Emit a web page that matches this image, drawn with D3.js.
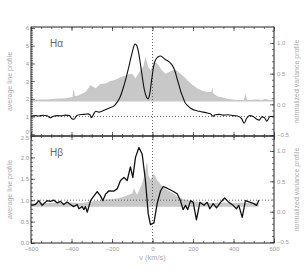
<!DOCTYPE html>
<html lang="en">
  <head>
    <meta charset="UTF-8" />
    <title>Line and variance profiles</title>
    <script src="https://cdn.jsdelivr.net/npm/d3@7"></script>
    <style>
      body { margin: 0; background: #fff; }
      text { font-family: "Liberation Sans", Arial, sans-serif; }
      .tick text { fill: #999; font-size: 6px; }
      .tick line { stroke: #333; stroke-width: 0.7; }
      .title { fill: #aaa; font-size: 7px; }
    </style>
  </head>
  <body>
    <script>

      // H-alpha average line profile
      var haV    = [-600,-580,-560,-540,-520,-505,-490,-470,-450,-430,-410,-398,-388,-375,-360,-340,-320,-310,-302,-290,-280,-265,-250,-230,-210,-190,-175,-160,-145,-130,-115,-105,-95,-87,-80,-70,-60,-50,-40,-30,-22,-15,-5,5,15,25,40,50,60,75,90,100,110,120,130,140,150,160,175,190,210,230,250,270,288,298,310,330,350,370,400,420,440,452,465,480,500,515,527,540,552,565,580,600];
      var haLine = [1.0,1.05,1.03,1.07,1.04,0.93,1.02,1.05,1.04,1.08,1.05,0.88,0.85,1.05,1.1,1.12,1.15,1.12,0.93,1.15,1.3,1.25,1.3,1.4,1.5,1.6,1.8,2.1,2.6,3.2,3.9,4.4,4.85,5.1,5.05,4.7,4.0,3.2,2.5,2.1,2.0,2.2,3.0,3.8,4.2,4.35,4.42,4.35,4.25,4.15,4.0,3.85,3.6,3.2,2.8,2.4,2.1,1.8,1.6,1.45,1.35,1.3,1.25,1.2,1.15,1.02,1.1,1.12,1.08,1.1,1.05,1.03,0.88,0.62,0.9,1.05,0.98,0.85,0.8,0.98,0.95,0.74,1.0,1.02];

      // H-alpha normalized variance profile
      var haVarV = [-600,-560,-520,-480,-430,-395,-389,-383,-364,-331,-306,-281,-257,-232,-207,-183,-158,-133,-109,-95,-84,-70,-59,-45,-35,-27,-20,-10,-2,7,15,23,30,45,64,85,104,120,138,158,178,200,220,245,270,290,295,300,320,345,369,395,418,450,459,468,484,500,524,540,558,575,598,600];
      var haVar  = [0.07,0.08,0.08,0.09,0.1,0.12,0.27,0.13,0.15,0.2,0.31,0.26,0.33,0.34,0.38,0.4,0.44,0.47,0.5,0.48,0.42,0.5,0.56,0.62,0.77,0.68,0.61,0.55,0.6,0.72,0.68,0.66,0.64,0.56,0.5,0.53,0.56,0.55,0.5,0.44,0.37,0.31,0.26,0.22,0.2,0.2,0.27,0.18,0.13,0.11,0.09,0.08,0.07,0.07,0.17,0.07,0.07,0.08,0.08,0.07,0.09,0.07,0.07,0.07];

      // H-beta average line profile
      var hbV    = [-600,-594,-578,-561,-545,-520,-504,-487,-471,-454,-438,-422,-405,-389,-372,-363,-347,-339,-331,-322,-306,-289,-273,-257,-245,-232,-215,-191,-174,-158,-141,-125,-109,-97,-84,-67,-51,-35,-21,-10,7,23,40,53,72,97,122,138,151,163,174,188,201,217,234,254,270,283,300,316,336,356,377,398,415,426,443,459,484,500,514,525];
      var hbLine = [0.9,0.88,0.9,0.99,0.88,0.99,0.97,1.0,0.94,0.97,0.9,0.96,0.9,0.85,0.9,0.8,0.85,0.78,0.85,0.72,0.99,1.1,1.2,1.1,0.99,1.14,1.22,1.21,1.27,1.46,1.53,1.46,1.78,1.53,2.0,2.23,2.08,1.46,0.68,0.43,0.47,0.92,1.22,1.32,1.28,1.22,1.15,0.99,0.78,0.88,0.78,0.99,0.95,0.54,0.95,0.88,0.95,0.8,0.92,0.82,0.95,1.05,0.95,0.88,0.8,0.88,0.6,0.99,0.95,0.92,0.88,1.0];

      // H-beta normalized variance profile
      var hbVarV = [-600,-560,-520,-480,-440,-400,-360,-331,-298,-265,-232,-200,-166,-140,-117,-100,-92,-84,-76,-64,-51,-40,-30,-26,-20,-10,0,7,23,40,56,89,122,155,204,250,300,350,400,450,500,525];
      var hbVar  = [0.14,0.15,0.14,0.15,0.14,0.15,0.14,0.15,0.17,0.18,0.2,0.21,0.22,0.25,0.28,0.3,0.39,0.33,0.28,0.36,0.47,0.6,0.78,0.82,0.6,0.52,0.58,0.63,0.52,0.45,0.39,0.33,0.25,0.2,0.17,0.15,0.14,0.15,0.14,0.15,0.14,0.14];

      var xTicks = [-600,-400,-200,0,200,400,600];
      var haLeftTicks = [0,1,2,3,4,5,6];
      var hbLeftTicks = [0,0.5,1.0,1.5,2.0,2.5];
      var rightTicks = [-0.5,0,0.5,1.0];

      var W = 305, H = 271;
      var x0 = 31, x1 = 274;
      var top1 = 27, mid = 136, bot2 = 243;
      var base1 = 0.045, base2 = 0.08;

      var svg = d3.select("body").append("svg")
                  .attr("width", W)
                  .attr("height", H);

      var x = d3.scaleLinear().domain([-600, 600]).range([x0, x1]);
      var yHa = d3.scaleLinear().domain([-0.1, 6.06]).range([mid, top1]);
      var yHaR = d3.scaleLinear().domain([-0.516, 1.26]).range([mid, top1]);
      var yHb = d3.scaleLinear().domain([0, 2.5]).range([bot2, mid]);
      var yHbR = d3.scaleLinear().domain([-0.516, 1.247]).range([bot2, mid]);

      function zip(a, b) {
        return a.map(function(v, i) { return [v, b[i]]; });
      }

      function panel(yL, yR, lineV, lineY, varV, varY, base, yTop, yBot, curve, lw) {
        var area = d3.area()
                     .x(function(d) { return x(d[0]); })
                     .y0(yR(base))
                     .y1(function(d) { return yR(d[1]); })
                     .curve(d3.curveLinear);
        svg.append("path")
           .datum(zip(varV, varY))
           .attr("fill", "#c8c8c8")
           .attr("d", area);

        // dotted reference lines
        svg.append("line")
           .attr("x1", x0).attr("x2", x1)
           .attr("y1", yL(1)).attr("y2", yL(1))
           .attr("stroke", "#444").attr("stroke-width", 0.8)
           .attr("stroke-dasharray", "1,2");
        svg.append("line")
           .attr("x1", x(0)).attr("x2", x(0))
           .attr("y1", yTop).attr("y2", yBot)
           .attr("stroke", "#444").attr("stroke-width", 0.8)
           .attr("stroke-dasharray", "1,2");

        var line = d3.line()
                     .x(function(d) { return x(d[0]); })
                     .y(function(d) { return yL(d[1]); })
                     .curve(curve);
        svg.append("path")
           .datum(zip(lineV, lineY))
           .attr("fill", "none")
           .attr("stroke", "#111")
           .attr("stroke-width", lw)
           .attr("stroke-linejoin", "round")
           .attr("d", line);

        svg.append("rect")
           .attr("x", x0).attr("y", yTop)
           .attr("width", x1 - x0).attr("height", yBot - yTop)
           .attr("fill", "none")
           .attr("stroke", "#222")
           .attr("stroke-width", 1);
      }

      function axis(gen, tx, ty, showLabels) {
        var g = svg.append("g")
                   .attr("transform", "translate(" + tx + "," + ty + ")")
                   .call(gen);
        g.select(".domain").remove();
        if (!showLabels) g.selectAll("text").remove();
        return g;
      }

      function minors(lo, hi, step) {
        var out = [];
        for (var v = lo; v <= hi + 1e-9; v += step) out.push(+v.toFixed(3));
        return out;
      }

      panel(yHa, yHaR, haV, haLine, haVarV, haVar, base1, top1, mid, d3.curveMonotoneX, 1.1);
      panel(yHb, yHbR, hbV, hbLine, hbVarV, hbVar, base2, mid, bot2, d3.curveLinear, 1.3);

      var xMinor = minors(-600, 600, 50);

      // x ticks on every horizontal edge, pointing into each panel
      [[top1, 1], [mid, -1], [mid, 1], [bot2, -1]].forEach(function(e) {
        var gen = e[1] > 0 ? d3.axisTop(x) : d3.axisBottom(x);
        axis(gen.tickValues(xMinor).tickSize(-2), 0, e[0], false);
        axis((e[1] > 0 ? d3.axisTop(x) : d3.axisBottom(x)).tickValues(xTicks).tickSize(-4), 0, e[0], false);
      });
      axis(d3.axisBottom(x).tickValues(xTicks).tickSize(0).tickPadding(4).tickFormat(d3.format("d")), 0, bot2, true);

      // left axes
      axis(d3.axisLeft(yHa).tickValues(minors(0, 6, 0.1)).tickSize(-2), x0, 0, false);
      var haLeft = axis(d3.axisLeft(yHa).tickValues(haLeftTicks).tickSize(-4).tickPadding(2).tickFormat(d3.format("d")), x0, 0, true);
      // the top panel's "0" sits a little above the lower panel's "2.5"
      haLeft.selectAll(".tick text").filter(function(d) { return d === 0; }).attr("y", -2.5);
      axis(d3.axisLeft(yHb).tickValues(minors(0, 2.5, 0.1)).tickSize(-2), x0, 0, false);
      var hbLeft = axis(d3.axisLeft(yHb).tickValues(hbLeftTicks).tickSize(-4).tickPadding(2).tickFormat(d3.format(".1f")), x0, 0, true);
      hbLeft.selectAll(".tick text").filter(function(d) { return d === 2.5; }).attr("y", 1.5);

      // right axes
      [yHaR, yHbR].forEach(function(s) {
        axis(d3.axisRight(s).tickValues(minors(-0.5, 1.2, 0.1)).tickSize(-2), x1, 0, false);
        axis(d3.axisRight(s).tickValues(rightTicks).tickSize(-4).tickPadding(3).tickFormat(d3.format(".1f")), x1, 0, true);
      });

      // panel labels
      svg.append("text")
         .attr("x", 50).attr("y", 47)
         .attr("fill", "#666").style("font-size", "10px")
         .text("H\u03b1");
      svg.append("text")
         .attr("x", 50).attr("y", 156)
         .attr("fill", "#666").style("font-size", "10px")
         .text("H\u03b2");

      // axis titles
      [(top1 + mid) / 2, (mid + bot2) / 2].forEach(function(cy) {
        svg.append("text")
           .attr("class", "title")
           .attr("text-anchor", "middle")
           .attr("transform", "translate(12," + cy + ")rotate(-90)")
           .text("average line profile");
        svg.append("text")
           .attr("class", "title")
           .attr("text-anchor", "middle")
           .attr("transform", "translate(299," + cy + ")rotate(-90)")
           .text("normalized variance profile");
      });
      svg.append("text")
         .attr("class", "title")
         .attr("text-anchor", "middle")
         .attr("x", x(0)).attr("y", 260)
         .style("font-size", "7.5px")
         .text("v (km/s)");

    </script>
  </body>
</html>
